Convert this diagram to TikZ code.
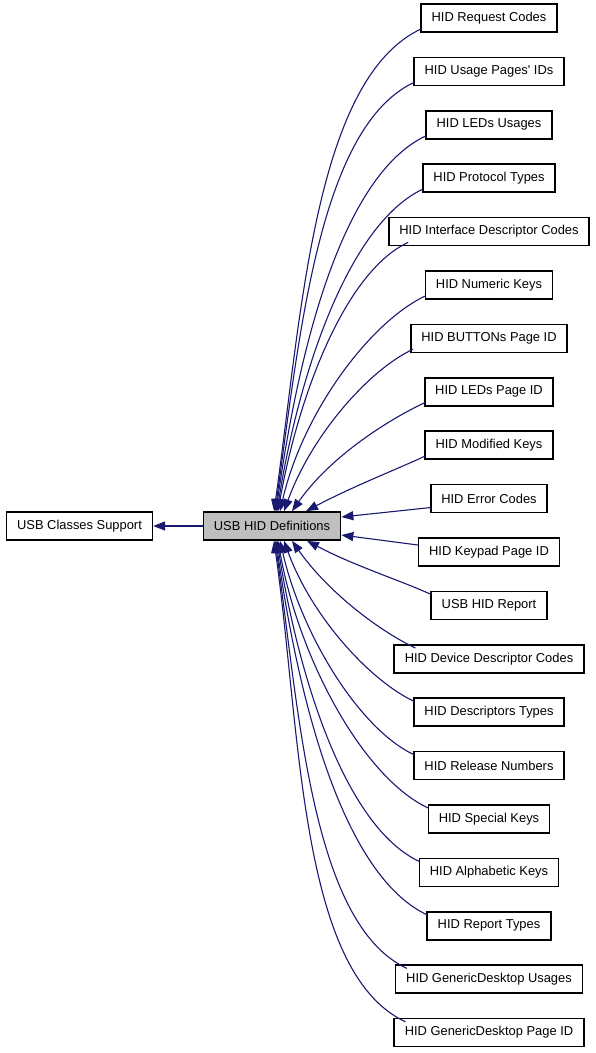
\documentclass[tikz,border=0pt]{standalone}
\usepackage{fontspec}
\setmainfont{Liberation Sans}
\usetikzlibrary{arrows.meta}
\definecolor{edgeblue}{RGB}{25,25,112}
\definecolor{groupgray}{RGB}{191,191,191}

\begin{document}
\begin{tikzpicture}[x=1pt, y=1pt,
    box/.style={rectangle, draw, line width=1.6pt, minimum height=28pt, inner xsep=10.5pt, font=\fontsize{12.9}{14}\selectfont},
    edge/.style={draw=edgeblue, line width=1.1pt, -{Triangle[length=12pt,width=9pt]}}]
    \useasboundingbox (0,0) rectangle (595,-1053);

    % Group nodes
    \node[box] (classes) at (79.5,-526) {USB Classes Support};
    \node[box, fill=groupgray] (usbhid) at (272,-526) {USB HID Definitions};

    % Sub groups
    \foreach \t [count=\i] in {HID Request Codes, HID Usage Pages\textquotesingle{} IDs, HID LEDs Usages,
        HID Protocol Types, HID Interface Descriptor Codes, HID Numeric Keys, HID BUTTONs Page ID,
        HID LEDs Page ID, HID Modified Keys, HID Error Codes, HID Keypad Page ID, USB HID Report,
        HID Device Descriptor Codes, HID Descriptors Types, HID Release Numbers, HID Special Keys,
        HID Alphabetic Keys, HID Report Types, HID GenericDesktop Usages, HID GenericDesktop Page ID}
        \node[box] (n\i) at (489,{-18-(\i-1)*53.4}) {\t};

    % Arrows
    \draw[edge] (usbhid) -- (classes);

    % Upper sub groups
    \foreach \i/\s/\d/\a in {1/1/2/82, 2/1/3/82, 3/1/4/82, 4/1/5/81, 5/20/6/80, 6/1/8/77, 7/3/12/70, 8/1/20/55, 9/1/34/28}
        \draw[edge] ([shift={(\s pt,4pt)}]n\i.south west) to[out=205, in=\a, out looseness=0.6, in looseness=1] ([xshift=\d pt]usbhid.north);

    % Middle sub groups
    \draw[edge] ([yshift=-9pt]n10.west) -- ([yshift=9pt]usbhid.east);
    \draw[edge] ([yshift=7pt]n11.west) -- ([yshift=-9pt]usbhid.east);

    % Lower sub groups
    \foreach \i/\s/\d/\a in {12/1/35/-28, 13/22/20/-55, 14/1/12/-70, 15/1/8/-77, 16/1/6/-80, 17/1/5/-81, 18/1/4/-82, 19/12/3/-82, 20/12/2/-82}
        \draw[edge] ([shift={(\s pt,-4pt)}]n\i.north west) to[out=155, in=\a, out looseness=0.6, in looseness=1] ([xshift=\d pt]usbhid.south);
\end{tikzpicture}
\end{document}
